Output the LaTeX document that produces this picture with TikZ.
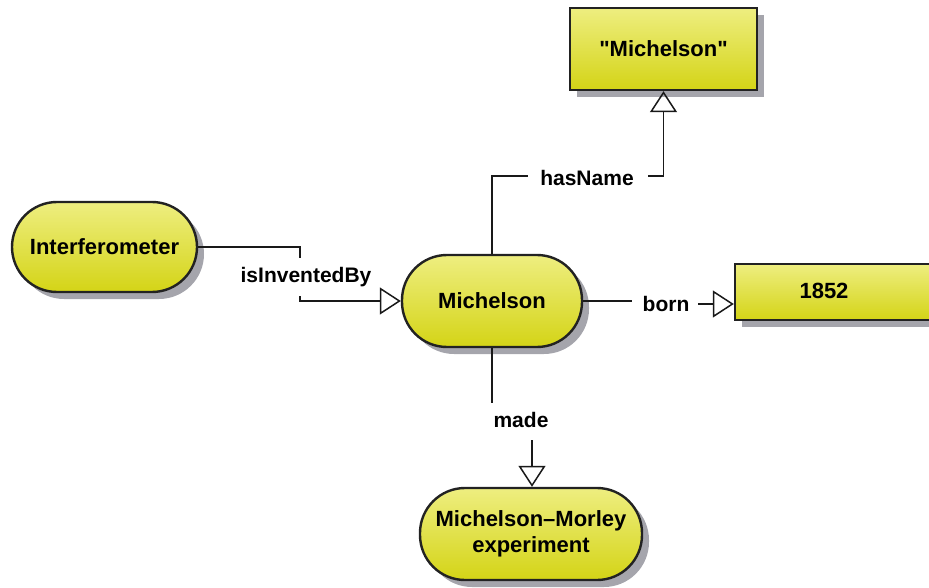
\documentclass[tikz,border=0pt]{standalone}
\usepackage{fontspec}
\setmainfont{Liberation Sans}
\newfontfamily\plainquotes{Liberation Sans}
\usetikzlibrary{arrows.meta,shadows}
\definecolor{ytop}{RGB}{238,238,128}
\definecolor{ybot}{RGB}{212,212,22}
\definecolor{shcol}{RGB}{165,165,172}
\definecolor{bordc}{RGB}{34,34,34}
\tikzset{
  base/.style={draw=bordc, line width=2.4pt, top color=ytop, bottom color=ybot,
    font=\bfseries\fontsize{22}{26}\selectfont, align=center, inner sep=0pt,
    drop shadow={shadow xshift=7pt, shadow yshift=-7pt, fill=shcol, opacity=1}},
  inst/.style={base, rounded corners=45pt},
  lit/.style={base},
  lbl/.style={font=\bfseries\fontsize{21}{24}\selectfont, inner sep=0pt},
  conn/.style={line width=1.5pt, draw=black!90},
  arr/.style={conn, -{Triangle[open, length=21pt, width=27pt, line width=1.5pt]}}
}
\begin{document}
\begin{tikzpicture}[x=1pt,y=-1pt]
\useasboundingbox (0,0) rectangle (929,588);
\clip (0,0) rectangle (929,588);
% nodes
\node[inst, minimum width=185pt, minimum height=90pt] (inter) at (104.5,247) {Interferometer};
\node[inst, minimum width=180pt, minimum height=92pt] (mich) at (492,301) {Michelson};
\node[lit, minimum width=187pt, minimum height=82pt] (litname) at (663.5,49) {{\plainquotes\bfseries "Michelson"}};
\node[lit, minimum width=215pt, minimum height=56pt] (year) at (842.5,292) {};
\node[font=\bfseries\fontsize{22}{26}\selectfont, inner sep=0pt] (yeartext) at (824,291) {1852};
\node[inst, minimum width=222pt, minimum height=92pt] (mm) at (531,534) {Michelson–Morley\\experiment};
% labels
\node[lbl] (l1) at (306,277) {isInventedBy};
\node[lbl] (l2) at (587,178) {hasName};
\node[lbl] (l3) at (666,304) {born};
\node[lbl] (l4) at (521,420) {made};
% bend coordinates
\coordinate (a1) at (300,258);
\coordinate (a2) at (300,296);
\coordinate (b1) at (528,176);
\coordinate (b2) at (648,176);
\coordinate (c1) at (632,301);
\coordinate (c2) at (698,304);
\coordinate (d1) at (492,403);
\coordinate (d2) at (532,440);
% connectors
\draw[conn] (inter.east) -| (a1);
\draw[arr] (a2) |- (mich.west);
\draw[conn] (mich.north) |- (b1);
\draw[arr] (b2) -| (litname.south);
\draw[conn] (mich.east) -- (c1);
\draw[arr] (c2) -- (c2 -| year.west);
\draw[conn] (mich.south) -- (d1);
\draw[arr] (d2) -- (d2 |- mm.north);
\end{tikzpicture}
\end{document}
